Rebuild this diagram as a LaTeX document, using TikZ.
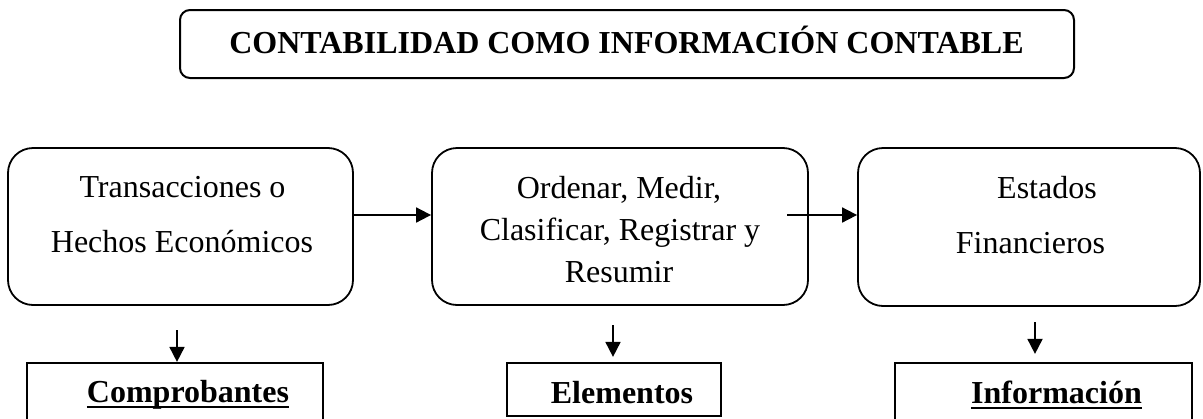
\documentclass[tikz,border=0pt]{standalone}
\usepackage{fontspec}
\setmainfont{Liberation Serif}
\usetikzlibrary{arrows.meta}
\begin{document}
\begin{tikzpicture}[x=1pt,y=-1pt,
  txt/.style={anchor=base,inner sep=0pt,font=\fontsize{32}{32}\selectfont},
  btxt/.style={txt,font=\fontsize{32}{32}\selectfont\bfseries},
  roundbox/.style={draw,line width=1.8pt,rounded corners=25pt,inner sep=0pt},
  titlebox/.style={draw,line width=2pt,rounded corners=10pt,inner sep=0pt},
  sqbox/.style={draw,line width=2.2pt,inner sep=0pt},
  arr/.style={line width=1.8pt,-{Triangle[length=15pt,width=15pt]}},
  uline/.style={line width=2pt}]
\useasboundingbox (0,0) rectangle (1203,418);
% title
\node[titlebox,minimum width=894pt,minimum height=68pt] (title) at (627,44) {};
\node[btxt] (tt) at (626.5,53) {CONTABILIDAD COMO INFORMACIÓN CONTABLE};
% rounded boxes
\node[roundbox,minimum width=345pt,minimum height=157pt] (b1) at (180.5,226.5) {};
\node[roundbox,minimum width=376pt,minimum height=157pt] (b2) at (620,226.5) {};
\node[roundbox,minimum width=342pt,minimum height=158pt] (b3) at (1029,227) {};
\node[txt] (t1a) at (182.5,197) {Transacciones o};
\node[txt] (t1b) at (182,252) {Hechos Económicos};
\node[txt] (t2a) at (619,198) {Ordenar, Medir,};
\node[txt] (t2b) at (620,240) {Clasificar, Registrar y};
\node[txt] (t2c) at (619,282) {Resumir};
\node[txt] (t3a) at (1047,198) {Estados};
\node[txt] (t3b) at (1030.5,253) {Financieros};
% bottom boxes
\node[sqbox,minimum width=296pt,minimum height=80pt] (c1) at (175,403) {};
\node[sqbox,minimum width=214pt,minimum height=53pt] (c2) at (614,389.5) {};
\node[sqbox,minimum width=297pt,minimum height=80pt] (c3) at (1043.5,403) {};
\node[btxt] (u1) at (188,402) {Comprobantes};
\node[btxt] (u2) at (622,403) {Elementos};
\node[btxt] (u3) at (1056.5,403) {Información};
\draw[uline] ([yshift=-5pt]u1.base west) -- ([yshift=-5pt]u1.base east);
\draw[uline] ([yshift=-5pt]u3.base west) -- ([yshift=-5pt]u3.base east);
% horizontal arrows
\coordinate (h1) at (0,215);
\coordinate (s2) at (787,215);
\draw[arr] (b1.east |- h1) -- (b2.west |- h1);
\draw[arr] (s2) -- (b3.west |- s2);
% vertical arrows
\coordinate (d1) at (177,330);
\coordinate (d2) at (613,325);
\coordinate (d3) at (1035,322);
\draw[arr] (d1) -- (d1 |- c1.north);
\draw[arr,shorten >=5pt] (d2) -- (d2 |- c2.north);
\draw[arr,shorten >=8pt] (d3) -- (d3 |- c3.north);
\end{tikzpicture}
\end{document}
